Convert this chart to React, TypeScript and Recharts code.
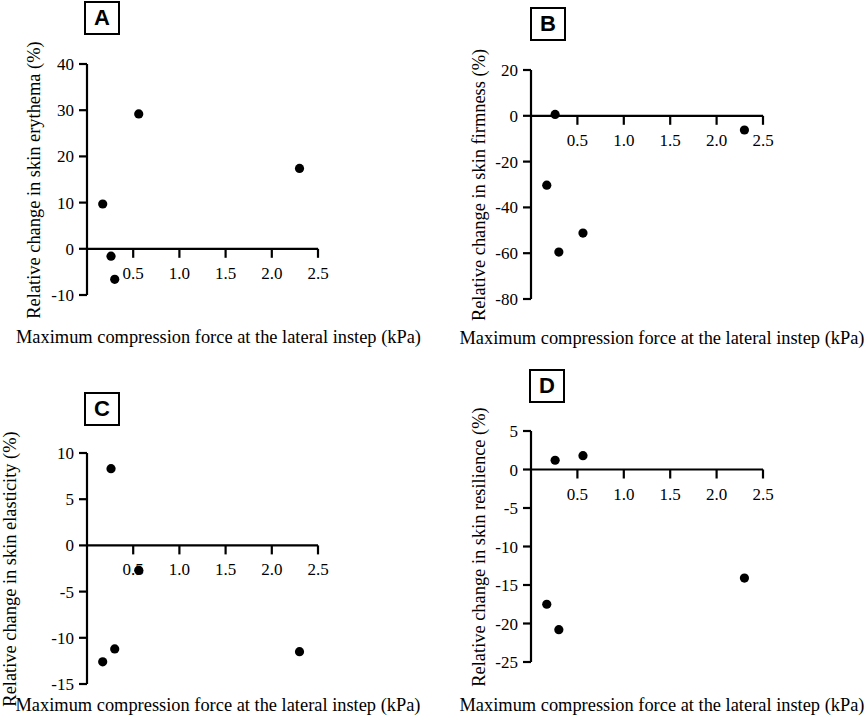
import { ScatterChart, Scatter, XAxis, YAxis, ReferenceLine, ReferenceDot } from 'recharts';

// force at the lateral instep, one value per subject (kPa)
const forceKPa = [0.17, 0.26, 0.3, 0.56, 2.3];

// relative changes (%) in the same subject order
const erythema = [9.7, -1.6, -6.6, 29.2, 17.4];
const firmness = [-30.3, 0.6, -59.5, -51.2, -6.2];
const elasticity = [-12.6, 8.3, -11.2, -2.7, -11.5];
const resilience = [-17.5, 1.2, -20.8, 1.8, -14.1];

const xTicks = [0.5, 1.0, 1.5, 2.0, 2.5];
const erythemaTicks = [-10, 0, 10, 20, 30, 40];
const firmnessTicks = [-80, -60, -40, -20, 0, 20];
const elasticityTicks = [-15, -10, -5, 0, 5, 10];
const resilienceTicks = [-25, -20, -15, -10, -5, 0, 5];

const xTitle = 'Maximum compression force at the lateral instep (kPa)';

const panels = [
  { letter: 'A', yTitle: 'Relative change in skin erythema (%)', values: erythema, yTicks: erythemaTicks },
  { letter: 'B', yTitle: 'Relative change in skin firmness (%)', values: firmness, yTicks: firmnessTicks },
  { letter: 'C', yTitle: 'Relative change in skin elasticity (%)', values: elasticity, yTicks: elasticityTicks },
  { letter: 'D', yTitle: 'Relative change in skin resilience (%)', values: resilience, yTicks: resilienceTicks },
];

// where each panel sits on the page
const layouts = [
  { left: 0, top: 0, w: 433, h: 358, margin: { top: 64, right: 115, bottom: 63, left: 27 }, yt: [34, 179.5], xt: [218.5, 337], box: [84, 1] },
  { left: 433, top: 0, w: 434, h: 358, margin: { top: 70, right: 104, bottom: 59, left: 38 }, yt: [478.5, 184.5], xt: [662, 338], box: [530, 7] },
  { left: 0, top: 358, w: 433, h: 359, margin: { top: 95, right: 115, bottom: 33, left: 27 }, yt: [10, 568.5], xt: [218, 704.5], box: [84, 392] },
  { left: 433, top: 358, w: 434, h: 359, margin: { top: 73, right: 104, bottom: 55, left: 38 }, yt: [478.5, 546.5], xt: [662, 704.5], box: [529, 369] },
];

const serif = '"Liberation Serif", "Times New Roman", serif';
const tickStyle = { fontFamily: serif, fontSize: 17, fill: '#000' };

function XTick(props: any) {
  const { cx, cy, label } = props;
  return (
    <g>
      <line x1={cx} y1={cy} x2={cx} y2={cy + 9} stroke="#000" strokeWidth={2.2} />
      <text x={cx} y={cy + 24} dy="0.355em" textAnchor="middle" style={tickStyle}>
        {label.toFixed(1)}
      </text>
    </g>
  );
}

function YTick(props: any) {
  const { x, y, payload } = props;
  return (
    <text x={x} y={y} dy="0.355em" textAnchor="end" style={tickStyle}>
      {payload.value}
    </text>
  );
}

function Dot(props: any) {
  return <circle cx={props.cx} cy={props.cy} r={4.6} fill="#000" />;
}

function Panel({ panel, layout }: { panel: typeof panels[number]; layout: typeof layouts[number] }) {
  const data = forceKPa.map((x, i) => ({ x, y: panel.values[i] }));
  const yMin = panel.yTicks[0];
  const yMax = panel.yTicks[panel.yTicks.length - 1];
  return (
    <>
      <div style={{ position: 'absolute', left: layout.left, top: layout.top }}>
        <ScatterChart width={layout.w} height={layout.h} margin={layout.margin}>
          <XAxis type="number" dataKey="x" domain={[0, 2.5]} hide />
          <YAxis
            type="number"
            dataKey="y"
            domain={[yMin, yMax]}
            ticks={panel.yTicks}
            interval={0}
            width={60}
            axisLine={{ stroke: '#000', strokeWidth: 2.2 }}
            tickLine={{ stroke: '#000', strokeWidth: 2.2 }}
            tickSize={8}
            tickMargin={5}
            tick={<YTick />}
          />
          <ReferenceLine y={0} stroke="#000" strokeWidth={2.2} />
          {xTicks.map((t) => (
            <ReferenceDot key={t} x={t} y={0} shape={(p: any) => <XTick {...p} label={t} />} />
          ))}
          <Scatter data={data} shape={Dot} isAnimationActive={false} />
        </ScatterChart>
      </div>
      <div
        style={{
          position: 'absolute', left: layout.box[0], top: layout.box[1], width: 32, height: 30,
          border: '2px solid #000', display: 'flex', alignItems: 'center', justifyContent: 'center',
          fontFamily: '"Liberation Sans", Arial, sans-serif', fontWeight: 'bold', fontSize: 22,
        }}
      >
        {panel.letter}
      </div>
      <div
        style={{
          position: 'absolute', left: layout.yt[0], top: layout.yt[1], transform: 'translate(-50%, -50%) rotate(-90deg)',
          whiteSpace: 'nowrap', fontFamily: serif, fontSize: 18.4, lineHeight: 1,
        }}
      >
        {panel.yTitle}
      </div>
      <div
        style={{
          position: 'absolute', left: layout.xt[0], top: layout.xt[1], transform: 'translate(-50%, -50%)',
          whiteSpace: 'nowrap', fontFamily: serif, fontSize: 18.4, lineHeight: 1,
        }}
      >
        {xTitle}
      </div>
    </>
  );
}

export default function App() {
  return (
    <div style={{ position: 'absolute', left: 0, top: 0, width: 867, height: 717, background: '#fff', overflow: 'hidden' }}>
      {panels.map((p, i) => (
        <Panel key={p.letter} panel={p} layout={layouts[i]} />
      ))}
    </div>
  );
}
